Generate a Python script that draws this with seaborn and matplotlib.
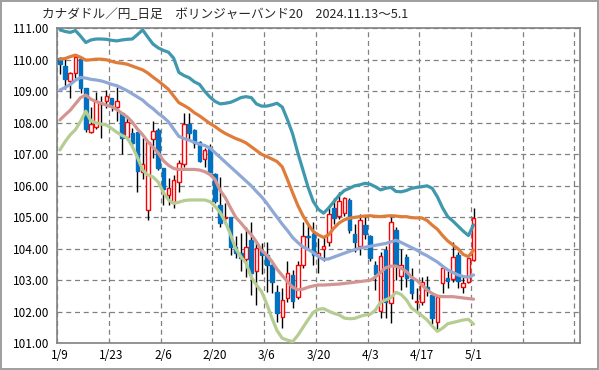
import pandas as pd
import matplotlib.pyplot as plt
import seaborn as sns

# candle data (CAD/JPY daily, 2025/1/9 - 5/1)
opens = [110.05, 109.80, 109.34, 109.57, 110.03, 109.10, 107.72, 107.86, 108.59, 108.69,
         108.78, 108.49, 108.30, 107.54, 107.69, 107.70, 106.45, 105.22, 107.48, 107.77,
         106.56, 105.71, 105.50, 106.11, 106.68, 107.95, 107.77, 107.38, 106.84, 107.17,
         106.37, 105.39, 104.97, 105.01, 104.07, 103.88, 103.67, 104.28, 103.28, 103.96,
         103.80, 103.47, 102.64, 101.85, 102.45, 103.17, 102.48, 103.49, 104.42, 104.46,
         103.78, 103.99, 104.23, 105.29, 105.05, 105.13, 105.56, 104.46, 104.10, 104.76,
         104.42, 103.47, 102.01, 103.96, 102.27, 104.60, 103.14, 103.73, 103.04, 102.30,
         102.30, 102.80, 102.53, 101.69, 102.90, 103.06, 103.03, 103.80, 102.78, 102.93,
         103.65]
highs = [110.08, 110.10, 109.62, 110.15, 110.06, 109.12, 108.49, 108.99, 108.85, 109.04,
         108.80, 109.13, 108.32, 108.20, 107.83, 107.72, 107.51, 107.40, 108.07, 107.82,
         106.58, 106.24, 106.34, 106.82, 108.30, 108.30, 107.80, 107.42, 107.20, 107.33,
         106.40, 106.27, 105.45, 105.02, 104.40, 104.50, 104.70, 104.86, 104.23, 104.18,
         104.23, 103.60, 102.85, 102.75, 103.60, 103.33, 103.60, 104.86, 104.80, 104.86,
         104.33, 104.40, 105.30, 105.60, 105.80, 105.65, 105.60, 104.80, 105.10, 105.00,
         104.45, 103.60, 103.90, 104.10, 105.00, 104.70, 104.00, 103.85, 103.40, 102.75,
         103.10, 103.15, 102.60, 102.50, 103.45, 103.30, 104.20, 103.90, 103.10, 103.70,
         105.31]
lows = [109.54, 109.07, 108.80, 109.43, 108.96, 107.70, 107.69, 107.80, 107.51, 108.48,
        108.38, 108.07, 107.01, 107.46, 107.30, 105.79, 106.22, 104.92, 106.87, 106.50,
        105.39, 105.39, 105.29, 105.81, 106.60, 107.46, 107.20, 106.75, 106.60, 106.40,
        105.45, 104.70, 104.80, 103.80, 103.70, 103.30, 103.10, 102.53, 102.22, 103.20,
        102.64, 102.60, 101.69, 101.48, 102.30, 102.11, 102.40, 103.40, 104.00, 103.50,
        103.22, 103.60, 104.10, 104.80, 104.95, 105.05, 104.50, 103.90, 103.80, 104.30,
        103.60, 102.70, 101.80, 101.80, 101.63, 103.00, 102.70, 102.80, 102.40, 102.00,
        102.20, 102.50, 101.60, 101.45, 102.60, 102.75, 102.95, 102.75, 102.60, 102.90,
        103.62]
closes = [109.86, 109.38, 109.57, 110.08, 109.12, 107.79, 107.97, 108.69, 108.64, 108.86,
          108.59, 108.68, 107.51, 108.04, 107.35, 106.48, 106.68, 107.38, 107.74, 106.58,
          105.90, 105.92, 106.19, 106.71, 107.95, 107.67, 107.35, 106.80, 107.14, 106.43,
          105.53, 104.81, 104.99, 104.07, 103.86, 103.72, 104.07, 103.22, 104.02, 103.80,
          103.47, 102.94, 101.95, 102.38, 103.22, 102.34, 103.49, 104.42, 104.36, 103.80,
          103.87, 104.09, 105.10, 104.99, 105.52, 105.62, 104.60, 104.23, 104.92, 104.46,
          103.70, 103.19, 103.78, 102.30, 104.84, 103.49, 103.49, 103.06, 102.59, 102.34,
          102.96, 102.69, 101.79, 102.48, 103.38, 102.99, 103.75, 102.97, 102.90, 103.70,
          104.97]

# Bollinger band lines (20 days)
upper2 = [110.95, 110.90, 110.87, 110.93, 110.75, 110.55, 110.63, 110.66, 110.66, 110.65,
          110.62, 110.60, 110.63, 110.65, 110.66, 110.80, 110.95, 110.72, 110.50, 110.38,
          110.30, 110.24, 110.05, 109.60, 109.50, 109.43, 109.30, 109.22, 109.00, 108.82,
          108.68, 108.60, 108.62, 108.65, 108.72, 108.80, 108.83, 108.80, 108.60, 108.53,
          108.53, 108.57, 108.62, 108.50, 108.10, 107.65, 107.05, 106.50, 105.95, 105.50,
          105.25, 105.13, 105.30, 105.50, 105.70, 105.85, 105.92, 106.00, 106.03, 106.08,
          106.05, 105.97, 105.87, 105.92, 105.95, 105.82, 105.81, 105.85, 105.92, 105.95,
          105.97, 106.00, 105.92, 105.65, 105.30, 105.02, 104.88, 104.72, 104.56, 104.42,
          104.76]
upper1 = [110.02, 110.04, 110.10, 110.15, 110.08, 109.99, 110.00, 110.02, 110.02, 110.00,
          109.95, 109.91, 109.89, 109.86, 109.80, 109.74, 109.68, 109.58, 109.45, 109.33,
          109.20, 109.06, 108.85, 108.64, 108.55, 108.45, 108.32, 108.22, 108.10, 107.98,
          107.88, 107.76, 107.66, 107.58, 107.50, 107.44, 107.36, 107.24, 107.12, 107.00,
          106.93, 106.85, 106.77, 106.60, 106.20, 105.78, 105.38, 105.05, 104.78, 104.55,
          104.44, 104.36, 104.45, 104.66, 104.82, 104.92, 104.97, 105.00, 105.02, 105.04,
          105.05, 105.03, 105.02, 105.04, 105.05, 105.04, 105.02, 105.02, 104.99, 104.98,
          104.98, 104.90, 104.75, 104.62, 104.42, 104.25, 104.12, 104.00, 103.82, 103.75,
          103.96]
middle = [109.04, 109.12, 109.22, 109.35, 109.44, 109.42, 109.38, 109.36, 109.33, 109.28,
          109.22, 109.18, 109.10, 109.02, 108.92, 108.82, 108.72, 108.57, 108.45, 108.30,
          108.18, 108.03, 107.80, 107.57, 107.50, 107.45, 107.38, 107.32, 107.28, 107.20,
          107.05, 106.90, 106.75, 106.60, 106.45, 106.30, 106.15, 106.00, 105.82, 105.65,
          105.45, 105.22, 105.00, 104.78, 104.58, 104.36, 104.20, 104.06, 103.98, 103.88,
          103.75, 103.66, 103.68, 103.74, 103.80, 103.86, 103.92, 103.97, 104.02, 104.05,
          104.08, 104.11, 104.14, 104.17, 104.22, 104.27, 104.20, 104.12, 104.04, 103.96,
          103.86, 103.78, 103.68, 103.58, 103.45, 103.33, 103.25, 103.17, 103.12, 103.10,
          103.17]
lower1 = [108.09, 108.25, 108.40, 108.60, 108.80, 108.88, 108.75, 108.67, 108.62, 108.56,
          108.51, 108.42, 108.30, 108.19, 108.02, 107.80, 107.62, 107.40, 107.22, 107.05,
          106.80, 106.65, 106.55, 106.52, 106.52, 106.52, 106.52, 106.50, 106.45, 106.36,
          106.20, 105.85, 105.62, 105.30, 105.00, 104.82, 104.62, 104.45, 104.22, 103.95,
          103.80, 103.60, 103.35, 103.15, 102.96, 102.78, 102.70, 102.72, 102.78, 102.82,
          102.85, 102.85, 102.86, 102.87, 102.88, 102.90, 102.92, 102.94, 102.96, 102.98,
          103.00, 103.10, 103.25, 103.40, 103.45, 103.45, 103.38, 103.28, 103.10, 103.00,
          102.85, 102.69, 102.58, 102.50, 102.48, 102.48, 102.48, 102.46, 102.44, 102.42,
          102.40]
lower2 = [107.14, 107.40, 107.62, 107.78, 108.05, 108.37, 108.06, 108.00, 107.96, 107.93,
          107.82, 107.70, 107.60, 107.52, 107.25, 106.90, 106.50, 106.34, 106.28, 106.12,
          105.80, 105.55, 105.44, 105.48, 105.53, 105.55, 105.55, 105.55, 105.55, 105.50,
          105.35, 105.15, 104.85, 104.45, 104.00, 103.75, 103.55, 103.10, 102.85, 102.64,
          102.25, 101.80, 101.40, 101.16, 101.10, 101.05, 101.25, 101.50, 101.75, 101.98,
          102.08, 102.10, 102.02, 101.95, 101.90, 101.80, 101.78, 101.79, 101.85, 101.90,
          101.92, 102.05, 102.30, 102.38, 102.45, 102.62, 102.55, 102.38, 102.12, 102.00,
          101.88, 101.74, 101.55, 101.38, 101.48, 101.62, 101.66, 101.70, 101.74, 101.76,
          101.61]

tick_labels = ["1/9", "1/23", "2/6", "2/20", "3/6", "3/20", "4/3", "4/17", "5/1"]
n_slots = 101  # axis keeps room for 20 more days

sns.set_theme(style="white")
plt.rcParams['font.family'] = ['Noto Sans CJK JP', 'DejaVu Sans']

fig = plt.figure(figsize=(5.99, 3.70), dpi=100, linewidth=1.5, edgecolor="#a0a0a0")
ax = fig.add_axes([0.0957, 0.0722, 0.8719, 0.8513])

days = list(range(len(closes)))

# wicks
ax.vlines(days, lows, highs, color="black", linewidth=1, zorder=2)

# bodies
for i in days:
    o, c = opens[i], closes[i]
    h = max(abs(c - o), 0.03)
    if c >= o:
        ax.bar(i, h, bottom=min(o, c), width=0.68, color="white",
               edgecolor="#ff0000", linewidth=1, zorder=3)
    else:
        ax.bar(i, h, bottom=min(o, c), width=0.68, color="#0070c0",
               edgecolor="#0070c0", linewidth=1, zorder=3)

bands = pd.DataFrame({
    "day": days * 5,
    "value": upper2 + upper1 + middle + lower1 + lower2,
    "band": (["+2σ"] * len(days) + ["+1σ"] * len(days) + ["MA"] * len(days)
             + ["-1σ"] * len(days) + ["-2σ"] * len(days)),
})
palette = {"+2σ": "#3f98ae", "+1σ": "#e07c3a", "MA": "#8fa8d6",
           "-1σ": "#d39592", "-2σ": "#b6cd92"}
sns.lineplot(data=bands, x="day", y="value", hue="band", palette=palette,
             linewidth=2.3, legend=False, ax=ax, zorder=4)

ax.set_xlim(-0.5, n_slots - 0.5)
ax.set_ylim(101, 111)
ax.set_yticks(range(101, 112))
ax.set_yticklabels([f"{v:.2f}" for v in range(101, 112)], fontsize=8.5)
ax.set_xticks(range(0, 81, 10))
ax.set_xticklabels(tick_labels, fontsize=8.5)
ax.set_xticks([x - 0.5 for x in range(0, n_slots, 10)], minor=True)
ax.tick_params(axis="both", which="both", length=0, colors="black")
ax.tick_params(axis="y", pad=6)
ax.tick_params(axis="x", pad=4)
ax.grid(False)
ax.grid(which="minor", axis="x", color="#808080", linestyle=(0, (4, 3)), linewidth=0.9)
ax.grid(which="major", axis="y", color="#808080", linestyle=(0, (4, 3)), linewidth=0.9)
ax.set_xlabel("")
ax.set_ylabel("")
for s in ax.spines.values():
    s.set_color("#808080")
    s.set_linewidth(1.2)

fig.text(0.07, 0.962, "カナダドル／円_日足　ボリンジャーバンド20　2024.11.13～5.1",
         fontsize=9.1, ha="left", va="center")

fig.savefig("out.png", dpi=100, edgecolor=fig.get_edgecolor())
